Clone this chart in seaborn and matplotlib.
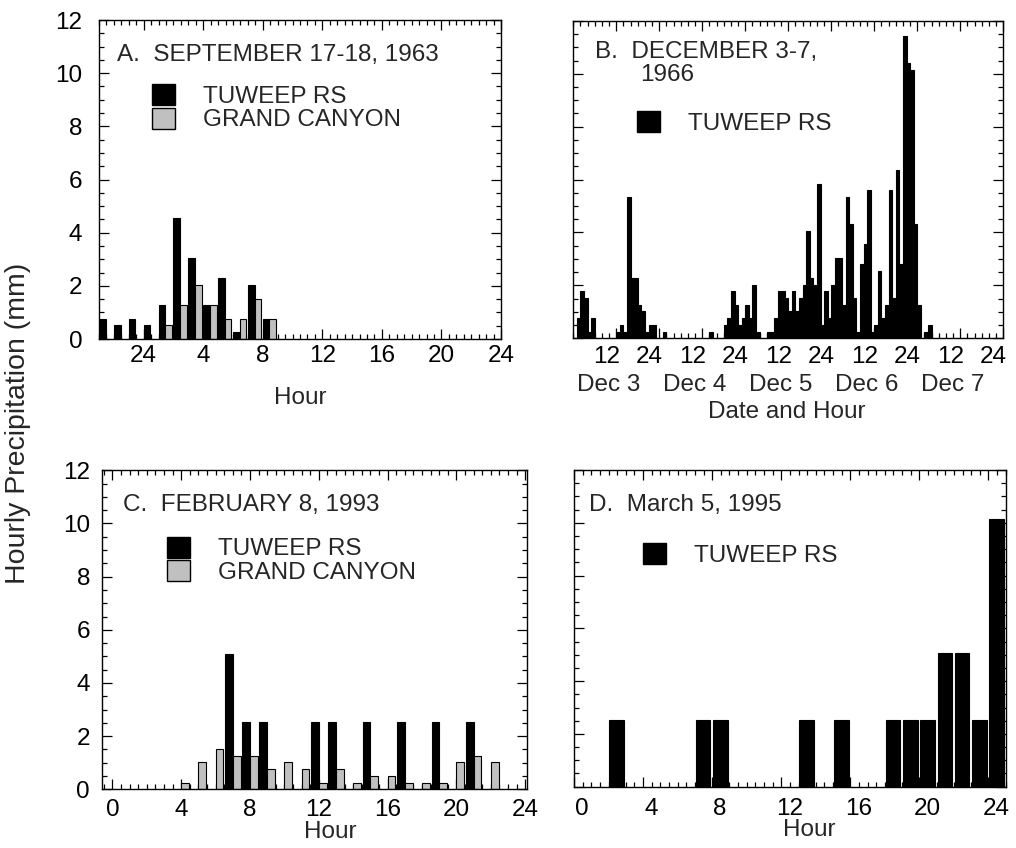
import numpy as np
import matplotlib
matplotlib.use("Agg")
import matplotlib.pyplot as plt
import matplotlib.transforms as mtransforms
from matplotlib.patches import Patch
from matplotlib.ticker import MultipleLocator, FixedLocator
import seaborn as sns

# ---------------- data (hourly precipitation, mm) ----------------
# A. September 17-18, 1963 (hours relative to midnight; negative = previous day)
a_tuweep_hours = [-3, -2, -1, 0, 1, 2, 3, 4, 5, 6, 7, 8]
a_tuweep_mm = [0.76, 0.51, 0.76, 0.51, 1.27, 4.57, 3.05, 1.27, 2.29, 0.25, 2.03, 0.76]
a_grand_hours = [1, 2, 3, 4, 5, 6, 7, 8]
a_grand_mm = [0.51, 1.27, 2.03, 1.27, 0.76, 0.76, 1.52, 0.76]
a_tick_hours = [0, 4, 8, 12, 16, 20, 24]
a_tick_labels = ["24", "4", "8", "12", "16", "20", "24"]

# B. December 3-7, 1966 (hours since Dec 3 00:00)
b_hours = [1, 2, 3, 4, 5, 12, 13, 14, 15, 16, 17, 18, 19, 20, 21, 22, 25,
           38, 42, 43, 44, 45, 46, 47, 48, 49, 50, 51, 54, 55, 56, 57, 58, 59,
           60, 61, 62, 63, 64, 65, 66, 67, 68, 69, 70, 71, 72, 73, 74, 75, 76,
           77, 78, 79, 80, 81, 82, 83, 84, 85, 86, 87, 88, 89, 90, 91, 92, 93,
           94, 95, 96, 98, 99]
b_mm = [0.76, 1.78, 1.52, 0.25, 0.76, 0.25, 0.51, 0.25, 5.33, 2.29, 2.29, 1.27,
        1.02, 0.25, 0.51, 0.51, 0.25,
        0.25, 0.51, 0.76, 1.78, 1.27, 0.51, 0.76, 1.27, 0.76, 2.03, 0.25, 0.25,
        0.25, 0.76, 1.78, 1.78, 1.52,
        1.02, 1.78, 1.02, 1.52, 2.03, 4.06, 2.29, 2.03, 5.84, 0.51, 1.78, 0.76,
        2.03, 3.05, 3.05, 1.27, 5.33,
        4.32, 1.52, 0.25, 2.79, 3.56, 5.59, 0.25, 0.51, 2.54, 0.76, 1.27, 5.59,
        1.52, 6.35, 2.79, 11.43, 10.41,
        10.16, 4.32, 1.27, 0.25, 0.51]
b_tick_hours = [12, 24, 36, 48, 60, 72, 84, 96, 108, 120]
b_tick_labels = ["12", "24", "12", "24", "12", "24", "12", "24", "12", "24"]
b_day_hours = [10, 34, 58, 82, 106]
b_day_labels = ["Dec 3", "Dec 4", "Dec 5", "Dec 6", "Dec 7"]

# C. February 8, 1993
c_tuweep_hours = [7, 8, 9, 12, 13, 15, 17, 19, 21]
c_tuweep_mm = [5.08, 2.54, 2.54, 2.54, 2.54, 2.54, 2.54, 2.54, 2.54]
c_grand_hours = [4, 5, 6, 7, 8, 9, 10, 11, 12, 13, 14, 15, 16, 17, 18, 19, 20, 21, 22]
c_grand_mm = [0.25, 1.02, 1.52, 1.27, 1.27, 0.76, 1.02, 0.76, 0.25, 0.76, 0.25,
              0.51, 0.51, 0.25, 0.25, 0.25, 1.02, 1.27, 1.02]

# D. March 5, 1995
d_tuweep_hours = [2, 7, 8, 13, 15, 18, 19, 20, 21, 22, 23, 24]
d_tuweep_mm = [2.54, 2.54, 2.54, 2.54, 2.54, 2.54, 2.54, 2.54, 5.08, 5.08, 2.54, 10.16]

hour_ticks = [0, 4, 8, 12, 16, 20, 24]
hour_labels = ["0", "4", "8", "12", "16", "20", "24"]

TUWEEP = "TUWEEP RS"
GRAND = "GRAND CANYON"
BLACK = "#000000"
GREY = "#c0c0c0"
FS = 17.5

# ---------------- style ----------------
sns.set_style("ticks")
plt.rcParams["font.family"] = ["Liberation Sans", "DejaVu Sans"]
plt.rcParams.update({
    "axes.linewidth": 1.0,
    "xtick.direction": "in",
    "ytick.direction": "in",
    "font.size": FS,
    "axes.edgecolor": "black",
    "xtick.color": "black",
    "ytick.color": "black",
})

fig = plt.figure(figsize=(10.16, 8.48), dpi=100)
axA = fig.add_axes([0.0974, 0.6002, 0.3957, 0.3762])
axB = fig.add_axes([0.5643, 0.6011, 0.4232, 0.3742])
axC = fig.add_axes([0.1004, 0.0692, 0.4183, 0.3762])
axD = fig.add_axes([0.5650, 0.0723, 0.4249, 0.3735])


def bars(ax, hours, vals, offset, width, color):
    x = np.asarray(hours, dtype=float) + offset
    sns.barplot(x=x, y=list(vals), native_scale=True, width=width, color=color,
                saturation=1, edgecolor="black", linewidth=0.8, errorbar=None,
                ax=ax)


def style(ax, xlim, ticks, labels, minor, xpad, ypad, ylabels=True, dx=0.0):
    ax.set_xlim(*xlim)
    ax.set_ylim(0, 12)
    ax.xaxis.set_major_locator(FixedLocator(ticks))
    ax.set_xticklabels(labels)
    ax.xaxis.set_minor_locator(MultipleLocator(minor))
    ax.yaxis.set_major_locator(MultipleLocator(2))
    ax.yaxis.set_minor_locator(MultipleLocator(0.5))
    ax.tick_params(which="both", direction="in", top=True, right=True,
                   width=0.9, labelsize=FS)
    ax.tick_params(which="major", length=7)
    ax.tick_params(which="minor", length=3.5)
    ax.tick_params(axis="x", which="major", pad=xpad)
    ax.tick_params(axis="y", which="major", pad=ypad, labelleft=ylabels)
    for s in ax.spines.values():
        s.set_visible(True)
        s.set_linewidth(1.0)
    ax.set_ylabel("")
    if dx:
        off = mtransforms.ScaledTranslation(dx / 100.0, 0, fig.dpi_scale_trans)
        for lab in ax.get_xticklabels():
            lab.set_transform(lab.get_transform() + off)


def legend(ax, anchor, grand=True):
    handles = [Patch(facecolor=BLACK, edgecolor="black")]
    labels = [TUWEEP]
    if grand:
        handles.append(Patch(facecolor=GREY, edgecolor="black"))
        labels.append(GRAND)
    ax.legend(handles, labels, loc="upper left", bbox_to_anchor=anchor,
              frameon=False, borderpad=0, borderaxespad=0, handlelength=0.95,
              handleheight=0.95, handletextpad=1.15, labelspacing=0.0,
              fontsize=FS)


def xlabel(ax, text, x, y):
    ax.set_xlabel(text, fontsize=FS)
    ax.xaxis.label.set_va("center")
    ax.xaxis.set_label_coords(x, y)


# ---------------- panel A ----------------
bars(axA, a_tuweep_hours, a_tuweep_mm, 0.225, 0.45, BLACK)
bars(axA, a_grand_hours, a_grand_mm, 0.675, 0.45, GREY)
style(axA, (-3, 24), a_tick_hours, a_tick_labels, 0.5, 4.5, 12)
axA.text(0.045, 0.89, "A.  SEPTEMBER 17-18, 1963", transform=axA.transAxes,
         ha="left", va="center", fontsize=FS)
legend(axA, (0.132, 0.80))
xlabel(axA, "Hour", 0.5, -0.184)

# ---------------- panel B ----------------
bars(axB, b_hours, b_mm, 0.5, 1.0, BLACK)
style(axB, (0, 120), b_tick_hours, b_tick_labels, 2, 5.5, 12, ylabels=False,
      dx=-10)
axB.text(0.05, 0.902, "B.  DECEMBER 3-7,", transform=axB.transAxes,
         ha="left", va="center", fontsize=FS)
axB.text(0.155, 0.83, "1966", transform=axB.transAxes,
         ha="left", va="center", fontsize=FS)
legend(axB, (0.148, 0.715), grand=False)
trB = mtransforms.blended_transform_factory(axB.transData, axB.transAxes)
for h, lab in zip(b_day_hours, b_day_labels):
    axB.text(h, -0.146, lab, transform=trB, ha="center", va="center", fontsize=FS)
xlabel(axB, "Date and Hour", 0.497, -0.232)

# ---------------- panel C ----------------
bars(axC, c_tuweep_hours, c_tuweep_mm, -0.225, 0.45, BLACK)
bars(axC, c_grand_hours, c_grand_mm, 0.225, 0.45, GREY)
style(axC, (-0.6, 24.1), hour_ticks, hour_labels, 0.5, 7, 8.6)
axC.text(0.049, 0.891, "C.  FEBRUARY 8, 1993", transform=axC.transAxes,
         ha="left", va="center", fontsize=FS)
legend(axC, (0.153, 0.792))
xlabel(axC, "Hour", 0.536, -0.134)

# ---------------- panel D ----------------
bars(axD, d_tuweep_hours, d_tuweep_mm, 0.475, 0.85, BLACK)
style(axD, (0, 25), hour_ticks, hour_labels, 0.5, 8, 12, ylabels=False, dx=8)
axD.text(0.035, 0.889, "D.  March 5, 1995", transform=axD.transAxes,
         ha="left", va="center", fontsize=FS)
legend(axD, (0.16, 0.77), grand=False)
xlabel(axD, "Hour", 0.544, -0.137)

fig.text(0.0177, 0.501, "Hourly Precipitation (mm)", rotation=90,
         ha="center", va="center", fontsize=20.5)

fig.savefig("out.png", dpi=100)
